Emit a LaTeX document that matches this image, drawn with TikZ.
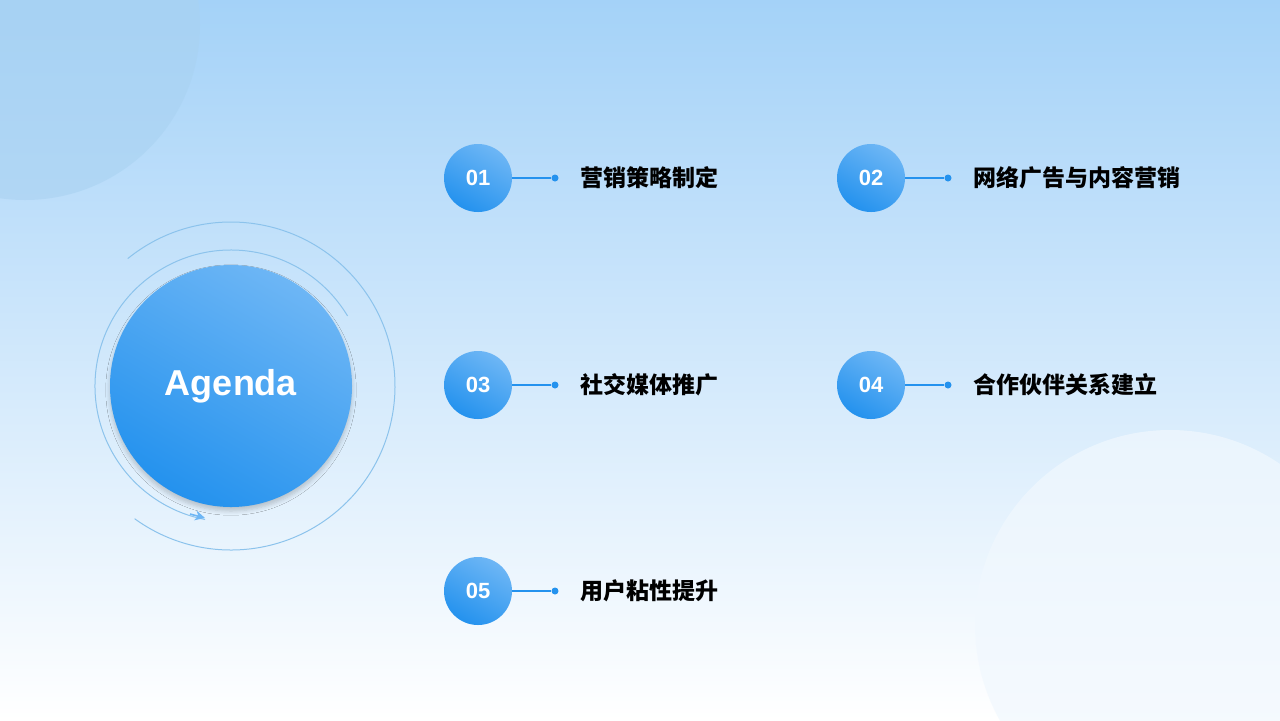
\documentclass[tikz,border=0pt]{standalone}
\usepackage{fontspec}
\setmainfont{Liberation Sans}
\newfontfamily\cjk{Noto Sans CJK SC}
\usetikzlibrary{positioning,arrows.meta,shadows.blur}
\definecolor{skytop}{HTML}{A4D2F8}
\definecolor{skybot}{HTML}{FFFFFF}
\definecolor{mainblue}{HTML}{2492EE}
\definecolor{lightblue}{HTML}{6DB6F5}
\definecolor{ringblue}{HTML}{8CC3EC}
\tikzset{
  numball/.style={circle,minimum size=68\punit,inner sep=0pt,top color=lightblue,bottom color=mainblue,shading angle=-30,text=white,font=\bfseries\fontsize{11}{11}\selectfont},
  itemtext/.style={anchor=west,inner sep=0pt,font=\cjk\bfseries\fontsize{11.5}{12}\selectfont},
  link/.style={mainblue,line width=0.7pt},
  dotnode/.style={circle,fill=mainblue,inner sep=0pt,minimum size=3.5pt}
}
\newlength{\punit}\setlength{\punit}{0.5pt}
\begin{document}
\begin{tikzpicture}[x=0.5pt,y=-0.5pt]
  \fill[top color=skytop,bottom color=skybot] (0,0) rectangle (1280,720);
  \useasboundingbox (0,0) rectangle (1280,720);
  % corner discs
  \begin{scope}
    \clip (0,0) rectangle (1280,720);
    \fill[ringblue!75,opacity=0.6] (25,25) circle (175);
    \fill[white!85!skytop,opacity=0.7] (1170,625) circle (195);
  \end{scope}
  % agenda disc and rings
  \draw[ringblue,line width=0.5pt] (231,386) ++(31:-136) arc[start angle=211,end angle=211,radius=136];
  \draw[ringblue,line width=0.5pt] ($(231,386)+(0,0)$) ;
  \draw[ringblue,line width=0.5pt] (231,386) ++(-31:136) arc[start angle=-31,end angle=-259,radius=136];
  \draw[ringblue,line width=0.5pt] (231,386) ++(-129:164) arc[start angle=-129,end angle=126,radius=164];
  \draw[-{Stealth[length=5pt,width=5pt]},lightblue,line width=0.8pt] (190,514) -- (205,518);
  \node[circle,minimum size=242\punit,inner sep=0pt,top color=lightblue,bottom color=mainblue,shading angle=-30,blur shadow={shadow blur steps=6,shadow opacity=20,shadow xshift=0pt,shadow yshift=-2pt},text=white,font=\bfseries\fontsize{18}{18}\selectfont] (agenda) at (231,386) {Agenda};
  % items
  \foreach \num/\px/\py/\label in {01/478/178/营销策略制定,02/871/178/网络广告与内容营销,03/478/385/社交媒体推广,04/871/385/合作伙伴关系建立,05/478/591/用户粘性提升}{
    \node[numball] (n\num) at (\px,\py) {\num};
    \node[dotnode] (d\num) at ([xshift=77\punit]n\num.center) {};
    \draw[link] (n\num.east) -- (d\num);
    \node[itemtext] (t\num) at ([xshift=25\punit]d\num.center) {\label};
  }
\end{tikzpicture}
\end{document}
